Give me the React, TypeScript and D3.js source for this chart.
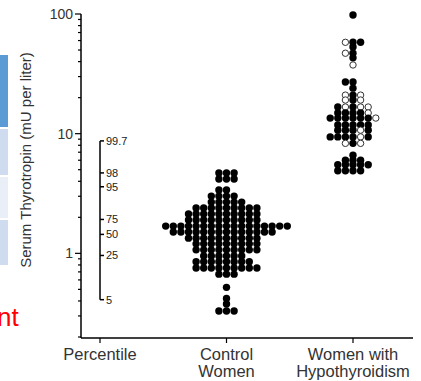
import * as d3 from 'd3';

const CATEGORIES = ['Percentile', 'Control Women', 'Women with Hypothyroidism'];
const CATEGORY_LINES = [['Percentile'], ['Control', 'Women'], ['Women with', 'Hypothyroidism']];

const PERCENTILE_LABELS = ['99.7', '98', '95', '75', '50', '25', '5'];
const PERCENTILE_VALUES = [8.7, 4.7, 3.6, 1.92, 1.44, 0.96, 0.41];

// control women: binned TSH value per row and number of dots in that row
const CONTROL_VALUES = [4.69, 4.18, 3.38, 3.01, 2.68, 2.39, 2.13, 1.9, 1.69, 1.51, 1.34, 1.2, 1.07, 0.95, 0.85, 0.755, 0.67, 0.52, 0.42, 0.377, 0.33];
const CONTROL_COUNTS = [3, 3, 2, 4, 5, 9, 10, 10, 17, 14, 10, 9, 9, 6, 8, 9, 3, 1, 1, 1, 3];

// hypothyroid women: f = filled dot, o = open dot, left to right
const HYPO_VALUES = [98, 58, 53, 47, 43, 37.5, 27, 24, 21, 19.1, 16.7, 14.9, 13.5, 11.8, 10.7, 9.4, 8.3, 6.6, 6.0, 5.5, 4.9];
const HYPO_PATTERNS = ['f', 'off', 'f', 'of', 'f', 'o', 'ff', 'f', 'ofo', 'ofo', 'fofoo', 'ffffo', 'ffffffo', 'fffff', 'fffof', 'ffffof', 'ofo', 'f', 'fff', 'fffff', 'ffff'];

const Y_MAJOR = [1, 10, 100];

const W = 421;
const H = 381;
const DOT_STEP = 7.6;
const DOT_R = 3.7;
const FONT = 'Liberation Sans, Arial, sans-serif';

// column offsets for n dots: centre first, then alternate left/right
function offsets(n: number) {
  const out: number[] = [];
  for (let i = 0; i < n; i++) out.push(i === 0 ? 0 : i % 2 === 1 ? -Math.ceil(i / 2) : i / 2);
  return out.sort((a, b) => a - b);
}

export default function App() {
  const y = d3.scaleLog().domain([0.2, 100]).range([337, 14]);
  const x = d3.scalePoint<string>().domain(CATEGORIES).range([100, 353]);
  const axisLeft = 81;
  const axisRight = 413;
  const axisBottom = 338;

  const controlDots = CONTROL_VALUES.flatMap((v, i) =>
    offsets(CONTROL_COUNTS[i]).map(o => ({ cx: x('Control Women')! + o * DOT_STEP, cy: y(v), filled: true }))
  );
  const hypoDots = HYPO_VALUES.flatMap((v, i) => {
    const pat = HYPO_PATTERNS[i];
    const offs = offsets(pat.length);
    return pat.split('').map((c, j) => ({ cx: x('Women with Hypothyroidism')! + offs[j] * DOT_STEP, cy: y(v), filled: c === 'f' }));
  });
  const dots = [...controlDots, ...hypoDots];

  const px = x('Percentile')!;
  const pTop = y(d3.max(PERCENTILE_VALUES)!);
  const pBot = y(d3.min(PERCENTILE_VALUES)!);

  return (
    <svg width={W} height={H} style={{ position: 'absolute', left: 0, top: 0, background: '#fff' }} fontFamily={FONT}>
      {/* slide remnants on the left edge */}
      <rect x={0} y={55} width={8} height={72} fill="#5b9bd5" />
      <rect x={0} y={129} width={8} height={46} fill="#cfdcef" />
      <rect x={0} y={177} width={8} height={41} fill="#e9eef7" />
      <rect x={0} y={220} width={8} height={45} fill="#cfdcef" />
      <text x={-3} y={326} fontSize={26} fill="#ff0000">nt</text>

      {/* y axis */}
      <line x1={axisLeft} x2={axisLeft} y1={y(100)} y2={axisBottom} stroke="#000" strokeWidth={1.5} />
      {y.ticks().map(t => {
        const major = Y_MAJOR.includes(t);
        return (
          <line key={t} x1={axisLeft - (major ? 6 : 3)} x2={axisLeft} y1={y(t)} y2={y(t)} stroke="#000" strokeWidth={1.2} />
        );
      })}
      {Y_MAJOR.map(t => (
        <text key={t} x={axisLeft - 8} y={y(t)} dy="0.35em" textAnchor="end" fontSize={14} fill="#333">
          {t}
        </text>
      ))}
      <text transform={`translate(31,160) rotate(-90)`} textAnchor="middle" fontSize={15} fill="#333">
        Serum Thyrotropin (mU per liter)
      </text>

      {/* x axis */}
      <line x1={axisLeft} x2={axisRight} y1={axisBottom} y2={axisBottom} stroke="#000" strokeWidth={1.5} />
      {CATEGORIES.map((c, i) => (
        <g key={c}>
          <line x1={x(c)} x2={x(c)} y1={axisBottom} y2={axisBottom + 5} stroke="#000" strokeWidth={1.2} />
          {CATEGORY_LINES[i].map((l, k) => (
            <text key={l} x={x(c)} y={360 + k * 17} textAnchor="middle" fontSize={16.5} fill="#333">
              {l}
            </text>
          ))}
        </g>
      ))}

      {/* percentile bracket */}
      <line x1={px} x2={px} y1={pTop} y2={pBot} stroke="#000" strokeWidth={1.5} />
      {PERCENTILE_VALUES.map((v, i) => (
        <g key={PERCENTILE_LABELS[i]}>
          <line x1={px} x2={px + 4} y1={y(v)} y2={y(v)} stroke="#000" strokeWidth={1.5} />
          <text x={px + 6} y={y(v)} dy="0.35em" fontSize={11} fill="#222">
            {PERCENTILE_LABELS[i]}
          </text>
        </g>
      ))}

      {/* dots */}
      {dots.map((d, i) =>
        d.filled ? (
          <circle key={i} cx={d.cx} cy={d.cy} r={DOT_R} fill="#000" />
        ) : (
          <circle key={i} cx={d.cx} cy={d.cy} r={DOT_R - 0.5} fill="#fff" stroke="#333" strokeWidth={1} />
        )
      )}
    </svg>
  );
}
